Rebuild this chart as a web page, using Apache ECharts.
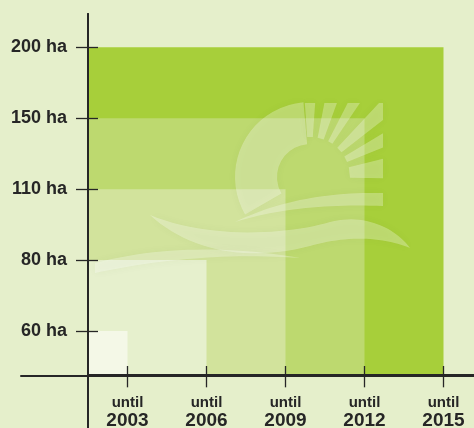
<!DOCTYPE html>
<html>
<head>
<meta charset="utf-8">
<script src="https://cdn.jsdelivr.net/npm/echarts@6/dist/echarts.min.js"></script>
<style>
  html, body { margin: 0; padding: 0; background: #e5efcb; }
  #chart { width: 474px; height: 428px; }
</style>
</head>
<body>
<div id="chart"></div>
<script>
// data
const years = ['2003', '2006', '2009', '2012', '2015'];
const hectares = [60, 80, 110, 150, 200];
const haLevels = [60, 80, 110, 150, 200];
const haLabels = ['60 ha', '80 ha', '110 ha', '150 ha', '200 ha'];
const colors = ['#f4f8e7', '#e6f0cd', '#d2e39c', '#bdd96f', '#a7cf3a'];

// levels are spaced evenly, first one sits a bit above the base line
const LEVEL_OFFSET = 0.62;
const levelPos = haLevels.map((v, i) => i + LEVEL_OFFSET);
const yearPos = years.map((y, i) => i + 0.5);

const FONT = "'Liberation Sans', Arial, sans-serif";
const INK = '#262626';

const chart = echarts.init(document.getElementById('chart'));

// logo watermark (sun over waves), drawn in pixels
function bez(p0, p1, p2, p3, n) {
  const pts = [];
  for (let k = 0; k <= n; k++) {
    const t = k / n, u = 1 - t;
    pts.push([
      u*u*u*p0[0] + 3*u*u*t*p1[0] + 3*u*t*t*p2[0] + t*t*t*p3[0],
      u*u*u*p0[1] + 3*u*u*t*p1[1] + 3*u*t*t*p2[1] + t*t*t*p3[1]
    ]);
  }
  return pts;
}
function chain(segs) {
  let pts = [];
  segs.forEach(s => { pts = pts.concat(bez(s[0], s[1], s[2], s[3], 24)); });
  return pts;
}
const sun = { cx: 310, cy: 177, right: 383, top: 103 };
function rayPoint(deg, r) {
  const a = deg * Math.PI / 180;
  return [sun.cx + Math.cos(a) * r, sun.cy + Math.sin(a) * r];
}
function rayEdge(deg) {
  const a = deg * Math.PI / 180;
  const c = Math.cos(a), s = Math.sin(a);
  let tR = c > 0 ? (sun.right - sun.cx) / c : Infinity;
  let tT = s < 0 ? (sun.top - sun.cy) / s : Infinity;
  return { t: Math.min(tR, tT), side: tR < tT ? 'r' : 't' };
}
const rays = [[-94, -86], [-79, -70], [-63, -56], [-47, -38], [-31, -22], [-14, 1]];
const logoFill = 'rgba(255,255,255,0.28)';
const logoShadow = { shadowBlur: 8, shadowColor: 'rgba(70,90,0,0.15)' };
const logo = [];
logo.push({
  type: 'sector', z: 5,
  shape: { cx: sun.cx, cy: sun.cy, r: 75, r0: 33,
    startAngle: 150 * Math.PI / 180, endAngle: 265 * Math.PI / 180, clockwise: true },
  style: Object.assign({ fill: logoFill }, logoShadow)
});
rays.forEach(r => {
  const e1 = rayEdge(r[0]), e2 = rayEdge(r[1]);
  const pts = [rayPoint(r[0], 40), rayPoint(r[0], e1.t)];
  if (e1.side !== e2.side) pts.push([sun.right, sun.top]);
  pts.push(rayPoint(r[1], e2.t), rayPoint(r[1], 40));
  logo.push({ type: 'polygon', z: 5, shape: { points: pts },
    style: Object.assign({ fill: logoFill }, logoShadow) });
});
const waves = [
  chain([
    [[235, 222], [280, 200], [330, 192], [383, 193]],
    [[383, 206], [330, 204], [280, 208], [235, 222]]
  ]),
  chain([
    [[150, 215], [210, 240], [290, 234], [330, 222]],
    [[330, 222], [365, 213], [395, 228], [410, 248]],
    [[410, 248], [380, 236], [345, 236], [310, 246]],
    [[310, 246], [250, 262], [190, 252], [150, 215]]
  ]),
  chain([
    [[95, 263], [160, 246], [230, 246], [300, 258]],
    [[300, 258], [230, 253], [160, 259], [95, 273]]
  ])
];
waves.forEach(w => logo.push({ type: 'polygon', z: 5, shape: { points: w },
  style: Object.assign({ fill: logoFill }, logoShadow) }));

// biggest area first so the smaller ones sit on top
const areaData = years.map((y, i) => [yearPos[i], levelPos[haLevels.indexOf(hectares[i])], i]).reverse();

const axisLineStyle = { color: INK, width: 2 };
const tickStyle = { color: INK, width: 1.3 };
const X_MAX = 4.886, X_MIN = -0.848, Y_MAX = 5.089, Y_MIN = -0.742;

chart.setOption({
  backgroundColor: '#e5efcb',
  animation: false,
  grid: [
    // plot area: origin at the axes crossing, labels + inner half of the ticks
    { left: 88, top: 14, right: 0, bottom: 53, outerBoundsMode: 'none' },
    // full frame: axis lines run past the origin, outer half of the ticks
    { left: 21, top: 14, right: 0, bottom: 0, outerBoundsMode: 'none' }
  ],
  xAxis: [{
    gridIndex: 0, type: 'value', min: 0, max: X_MAX, z: 10,
    splitLine: { show: false },
    axisLine: { onZero: false, lineStyle: axisLineStyle },
    axisTick: { inside: true, length: 9, lineStyle: tickStyle, customValues: yearPos },
    axisLabel: {
      customValues: yearPos, margin: 19,
      formatter: v => '{u|until}\n{y|' + years[Math.round(v - 0.5)] + '}',
      rich: {
        u: { fontFamily: FONT, fontWeight: 'bold', fontSize: 15, lineHeight: 17, color: INK, align: 'center' },
        y: { fontFamily: FONT, fontWeight: 'bold', fontSize: 19, lineHeight: 19, color: INK, align: 'center' }
      }
    }
  }, {
    gridIndex: 1, type: 'value', min: X_MIN, max: X_MAX, z: 10,
    splitLine: { show: false },
    axisLine: { onZero: true, lineStyle: axisLineStyle },
    axisTick: { length: 12, lineStyle: tickStyle, customValues: yearPos },
    axisLabel: { show: false }
  }],
  yAxis: [{
    gridIndex: 0, type: 'value', min: 0, max: Y_MAX, z: 10,
    splitLine: { show: false },
    axisLine: { onZero: false, lineStyle: axisLineStyle },
    axisTick: { inside: true, length: 10, lineStyle: tickStyle, customValues: levelPos },
    axisLabel: {
      customValues: levelPos, margin: 21,
      fontFamily: FONT, fontWeight: 'bold', fontSize: 18, color: INK,
      formatter: v => haLabels[Math.round(v - LEVEL_OFFSET)]
    }
  }, {
    gridIndex: 1, type: 'value', min: Y_MIN, max: Y_MAX, z: 10,
    splitLine: { show: false },
    axisLine: { onZero: true, lineStyle: axisLineStyle },
    axisTick: { length: 12, lineStyle: tickStyle, customValues: levelPos },
    axisLabel: { show: false }
  }],
  graphic: logo,
  series: [{
    type: 'custom',
    xAxisIndex: 0, yAxisIndex: 0,
    z: 2,
    data: areaData,
    renderItem: (params, api) => {
      const base = api.coord([0, 0]);
      const corner = api.coord([api.value(0), api.value(1)]);
      return {
        type: 'rect',
        shape: { x: base[0], y: corner[1], width: corner[0] - base[0], height: base[1] - corner[1] },
        style: { fill: colors[api.value(2)] }
      };
    }
  }]
});

window.addEventListener('resize', () => chart.resize());
</script>
</body>
</html>
